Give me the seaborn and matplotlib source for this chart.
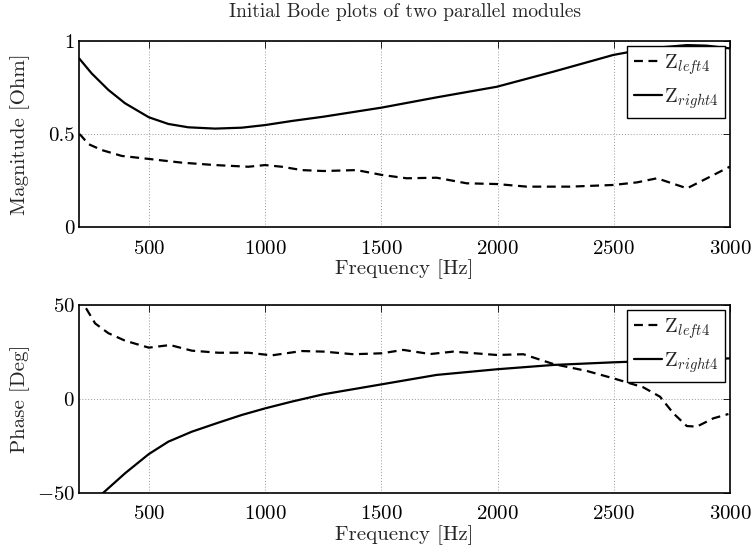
import numpy as np
import pandas as pd
import matplotlib
matplotlib.use("Agg")
import matplotlib.pyplot as plt
import seaborn as sns
from matplotlib.ticker import FuncFormatter

# ---- data ----
mag_left_f = [200, 206, 240, 297, 384, 500, 642, 785, 928, 1000, 1072, 1158, 1251, 1394,
              1502, 1609, 1738, 1867, 1997, 2126, 2312, 2498, 2600, 2686, 2750, 2815,
              2901, 3000]
mag_left = [0.50, 0.495, 0.446, 0.414, 0.382, 0.366, 0.346, 0.333, 0.324, 0.333, 0.324,
            0.306, 0.301, 0.306, 0.280, 0.262, 0.265, 0.235, 0.231, 0.217, 0.217,
            0.226, 0.24, 0.262, 0.235, 0.208, 0.262, 0.325]
mag_right_f = [200, 254, 326, 398, 500, 584, 670, 785, 900, 1000, 1115, 1251, 1502, 1738,
               1997, 2240, 2498, 2650, 2815, 2900, 3000]
mag_right = [0.907, 0.826, 0.737, 0.665, 0.590, 0.554, 0.536, 0.529, 0.534, 0.548, 0.570,
             0.593, 0.642, 0.697, 0.754, 0.835, 0.925, 0.96, 0.978, 0.975, 0.96]

ph_left_f = [200, 226, 269, 326, 398, 500, 591, 685, 799, 928, 1029, 1158, 1251, 1380,
             1502, 1595, 1710, 1810, 1997, 2111, 2240, 2384, 2498, 2627, 2699, 2756,
             2814, 2857, 2928, 2993]
ph_left = [55, 49.1, 40.2, 35.0, 31.0, 27.3, 28.7, 25.7, 24.6, 24.6, 23.2, 25.5, 25.2,
           23.8, 24.3, 26.1, 23.9, 25.2, 23.4, 23.8, 18.6, 14.9, 11.0, 6.2, 1.2, -7.6,
           -14.4, -14.7, -10.3, -8.0]
ph_right_f = [200, 250, 305, 398, 500, 584, 685, 799, 900, 1000, 1115, 1251, 1502, 1738,
              1997, 2240, 2498, 2750, 3000]
ph_right = [-62, -56, -49.8, -39.5, -29.3, -22.7, -17.4, -12.6, -8.5, -5.0, -1.4, 2.5,
            7.8, 12.8, 15.8, 18.1, 19.5, 20.6, 21.6]

xticks = [500, 1000, 1500, 2000, 2500, 3000]

# ---- style ----
sns.set_style("white")
plt.rcParams["font.family"] = ["cmr10", "DejaVu Serif"]
plt.rcParams["mathtext.fontset"] = "cm"
plt.rcParams["axes.formatter.use_mathtext"] = True
plt.rcParams["axes.unicode_minus"] = True

FS = 15
fig = plt.figure(figsize=(7.53, 5.51), dpi=100)
ax1 = fig.add_axes([0.105, 0.588, 0.8645, 0.3376])
ax2 = fig.add_axes([0.105, 0.1053, 0.8645, 0.3412])

lbl_l = r"$\mathrm{Z}_{left4}$"
lbl_r = r"$\mathrm{Z}_{right4}$"

def draw(ax, fl, yl, fr, yr):
    dl = pd.DataFrame({"f": fl, "v": yl})
    dr = pd.DataFrame({"f": fr, "v": yr})
    sns.lineplot(data=dl, x="f", y="v", ax=ax, color="black", linestyle=(0, (4, 2.5)),
                 linewidth=1.6, label=lbl_l)
    sns.lineplot(data=dr, x="f", y="v", ax=ax, color="black", linestyle="-",
                 linewidth=1.6, label=lbl_r)
    ax.set_xlim(200, 3000)
    ax.set_xticks(xticks)
    ax.grid(True, color="#999999", linestyle=(0, (1, 2)), linewidth=0.7)
    ax.tick_params(direction="in", top=True, right=True, length=5, width=0.6,
                   labelsize=FS, colors="black", pad=3)
    ax.tick_params(axis="x", pad=9)
    for s in ax.spines.values():
        s.set_color("black")
        s.set_linewidth(1.2)
    ax.set_xlabel("Frequency [Hz]", fontsize=FS, labelpad=1)
    ax.yaxis.set_label_coords(-0.075, 0.5)
    leg = ax.legend(loc="upper right", fontsize=FS, frameon=True, fancybox=False,
                    edgecolor="black", framealpha=1, handlelength=1.35,
                    handletextpad=0.1, borderpad=0.3, labelspacing=0.45,
                    borderaxespad=0.25)
    leg.get_frame().set_linewidth(1.0)

draw(ax1, mag_left_f, mag_left, mag_right_f, mag_right)
ax1.set_ylim(0, 1)
ax1.set_yticks([0, 0.5, 1])
ax1.yaxis.set_major_formatter(FuncFormatter(lambda v, p: f"{v:g}"))
ax1.set_ylabel("Magnitude [Ohm]", fontsize=FS)
ax1.set_title("Initial Bode plots of two parallel modules", fontsize=14, pad=17)

draw(ax2, ph_left_f, ph_left, ph_right_f, ph_right)
ax2.set_ylim(-50, 50)
ax2.set_yticks([-50, 0, 50])
ax2.set_ylabel("Phase [Deg]", fontsize=FS)

fig.savefig("out.png", dpi=100)
